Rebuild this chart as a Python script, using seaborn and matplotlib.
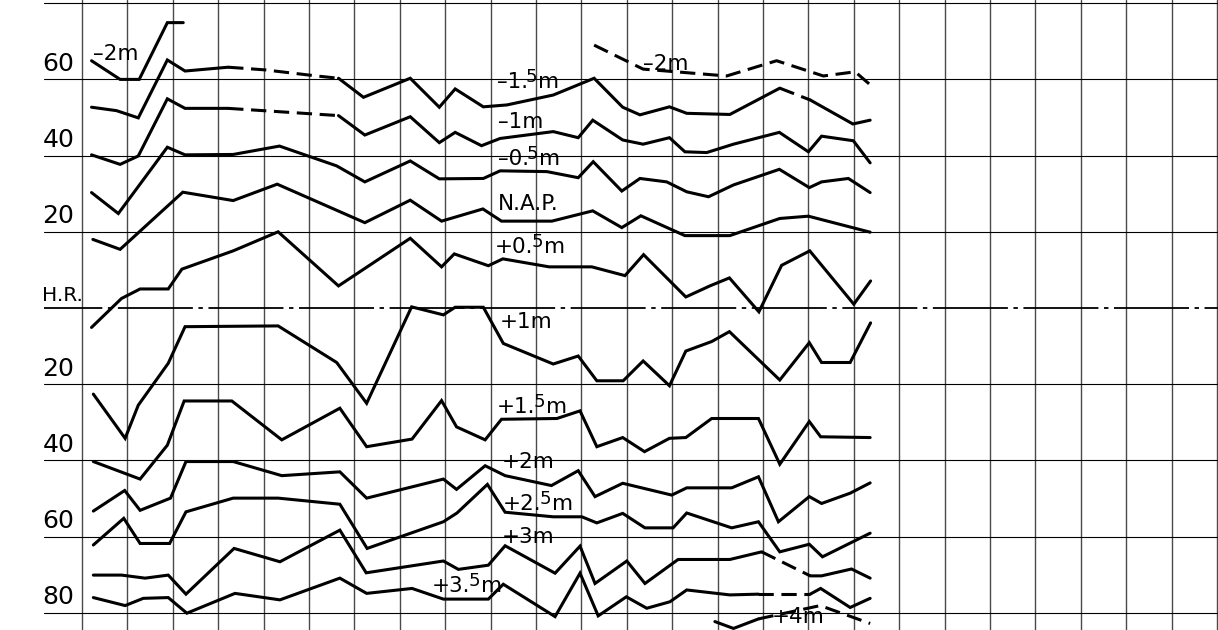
import matplotlib
matplotlib.use("Agg")
import matplotlib.pyplot as plt
import seaborn as sns

# Observation positions are in ruled-column widths from the first vertical rule;
# levels are in cm relative to H.R. (positive = above H.R.).

x_min2_a = [0.21, 0.84, 1.26, 1.88, 2.23]
v_min2_a = [64.9, 60.0, 60.0, 74.9, 74.9]

x_min2_b = [11.28, 12.36, 14.20, 15.30, 16.33, 17.03, 17.34]
v_min2_b = [69.0, 62.7, 60.9, 64.9, 60.9, 62.0, 58.8]

x_min15 = [0.21, 0.76, 1.24, 1.88, 2.27, 3.22, 4.03, 5.17, 5.65, 6.20, 7.23, 7.87, 8.22,
           8.84, 9.36, 10.38, 11.28, 11.91, 12.29, 12.94, 13.32, 14.27, 15.37, 16.04, 16.98, 17.36]
v_min15 = [52.7, 51.8, 49.9, 65.1, 62.2, 63.2, 62.5, 60.9, 60.3, 55.3, 60.3, 52.7, 57.5,
           52.8, 53.3, 55.9, 60.3, 52.7, 50.7, 52.8, 51.1, 50.8, 57.7, 54.6, 48.3, 49.3]

x_min1 = [0.21, 0.84, 1.24, 1.88, 2.27, 3.22, 5.65, 6.23, 7.23, 7.87, 8.22, 8.80, 9.21, 10.38,
          10.93, 11.25, 11.91, 12.36, 12.94, 13.28, 13.76, 14.35, 15.36, 16.00, 16.29, 16.99, 17.36]
v_min1 = [40.2, 37.7, 39.9, 54.9, 52.4, 52.4, 50.5, 45.4, 50.2, 43.4, 46.1, 42.6, 44.5, 46.3,
          44.7, 49.3, 44.1, 43.0, 44.7, 41.0, 40.8, 43.0, 46.1, 41.0, 45.1, 43.9, 38.1]

x_min05 = [0.21, 0.80, 1.88, 2.27, 3.33, 4.35, 5.61, 6.23, 7.23, 7.87, 8.84, 9.21, 10.24,
           10.93, 11.26, 11.89, 12.29, 12.88, 13.32, 13.80, 14.35, 15.36, 16.02, 16.29, 16.88, 17.36]
v_min05 = [30.3, 24.8, 42.2, 40.2, 40.3, 42.5, 37.3, 33.1, 38.6, 33.9, 34.0, 36.0, 35.8,
           34.2, 38.4, 30.7, 34.0, 33.1, 30.5, 29.2, 32.3, 36.4, 31.6, 33.1, 34.0, 30.3]

x_nap = [0.24, 0.84, 2.22, 3.33, 4.30, 6.23, 7.23, 7.92, 8.83, 9.24, 10.35, 11.25, 11.89,
         12.31, 13.28, 14.27, 15.37, 16.00, 17.36]
v_nap = [18.0, 15.4, 30.4, 28.2, 32.5, 22.4, 28.3, 22.8, 26.0, 22.8, 22.8, 25.5, 21.1,
         24.2, 19.0, 19.0, 23.5, 24.1, 19.9]

x_p05 = [0.21, 0.87, 1.28, 1.90, 2.20, 3.33, 4.32, 5.65, 7.23, 7.92, 8.20, 8.95, 9.27,
         10.29, 11.23, 11.96, 12.37, 13.30, 13.83, 14.26, 14.91, 15.41, 16.03, 17.00, 17.37]
v_p05 = [-5.1, 2.5, 5.0, 5.0, 10.2, 15.0, 20.0, 5.8, 18.3, 10.8, 14.2, 11.1, 12.9,
         10.8, 10.8, 8.5, 14.0, 2.9, 5.8, 7.9, -1.0, 11.2, 15.0, 1.0, 7.1]

x_p1 = [0.25, 0.95, 1.24, 1.90, 2.27, 4.32, 5.61, 6.27, 7.26, 7.96, 8.22, 8.84, 9.28, 10.38,
        10.93, 11.34, 11.92, 12.36, 12.94, 13.30, 13.87, 14.26, 15.37, 16.02, 16.29, 16.92, 17.37]
v_p1 = [-22.6, -34.2, -25.5, -14.5, -4.9, -4.7, -14.3, -25.0, 0.3, -1.8, 0.2, 0.2, -9.3, -14.7,
        -12.6, -19.1, -19.1, -13.9, -20.4, -11.3, -8.8, -6.2, -18.9, -9.1, -14.3, -14.3, -3.9]

x_p15 = [0.25, 1.28, 1.88, 2.25, 3.30, 4.40, 5.68, 6.27, 7.27, 7.92, 8.25, 8.88, 9.24,
         10.46, 10.97, 11.34, 11.91, 12.39, 12.94, 13.30, 13.87, 14.90, 15.37, 16.02, 16.27, 17.36]
v_p15 = [-40.3, -44.9, -36.0, -24.4, -24.4, -34.6, -26.3, -36.4, -34.4, -24.3, -31.2, -34.6, -29.2,
         -29.0, -27.0, -36.4, -34.0, -37.7, -34.2, -34.0, -29.0, -29.0, -41.0, -29.8, -33.8, -34.0]

x_p2 = [0.25, 0.94, 1.28, 1.95, 2.29, 3.33, 4.40, 5.68, 6.27, 7.96, 8.25, 8.88, 9.32,
        10.34, 10.93, 11.30, 11.91, 12.99, 13.32, 14.31, 14.90, 15.34, 16.02, 16.29, 16.92, 17.36]
v_p2 = [-53.3, -47.9, -53.1, -49.9, -40.3, -40.3, -44.0, -43.0, -49.9, -44.9, -47.6, -41.4, -44.0,
        -46.6, -42.7, -49.5, -46.0, -49.1, -47.2, -47.2, -44.3, -56.1, -49.5, -51.3, -48.6, -45.9]

x_p25 = [0.25, 0.92, 1.28, 1.93, 2.29, 3.33, 4.32, 5.68, 6.28, 7.96, 8.26, 8.93, 9.32,
         10.38, 11.01, 11.34, 11.91, 12.40, 13.02, 13.32, 14.31, 14.90, 15.37, 16.02, 16.31, 17.36]
v_p25 = [-62.2, -55.2, -61.8, -61.8, -53.5, -49.9, -49.9, -51.5, -63.1, -56.1, -53.8, -46.3, -53.6,
         -54.8, -54.8, -56.4, -53.9, -57.7, -57.7, -53.8, -57.7, -56.1, -64.0, -62.0, -65.3, -59.1]

x_p3 = [0.25, 0.87, 1.39, 1.90, 2.29, 3.35, 4.36, 5.68, 6.26, 7.96, 8.29, 8.95, 9.32,
        10.42, 10.97, 11.30, 12.00, 12.40, 13.13, 14.27, 14.97, 16.04, 16.29, 16.95, 17.36]
v_p3 = [-70.1, -70.1, -70.9, -70.1, -75.1, -63.1, -66.6, -58.3, -69.5, -66.4, -68.6, -67.5, -62.4,
        -69.6, -62.5, -72.3, -66.4, -72.3, -66.0, -66.0, -64.0, -70.3, -70.3, -68.5, -70.9]

x_p35 = [0.25, 0.95, 1.35, 1.90, 2.31, 3.37, 4.36, 5.68, 6.27, 7.27, 7.96, 8.95, 9.28,
         10.42, 10.97, 11.37, 11.99, 12.44, 12.95, 13.32, 14.27, 14.90, 16.04, 16.27, 16.92, 17.36]
v_p35 = [-76.0, -78.1, -76.2, -76.0, -80.1, -74.9, -76.6, -70.9, -74.9, -73.6, -76.4, -76.4, -72.5,
         -81.0, -69.6, -80.8, -75.8, -78.8, -77.1, -74.0, -75.3, -75.1, -75.1, -73.6, -78.6, -76.2]

x_p4 = [13.94, 14.35, 14.90, 16.26, 17.36]
v_p4 = [-82.3, -84.1, -81.6, -78.1, -82.8]

tick_values = [60, 40, 20, 0, -20, -40, -60, -80]
tick_texts = ["60", "40", "20", "H.R.", "20", "40", "60", "80"]

# depth label split as (text, raised digit, trailing unit)
depth_names = {
    "min2_a": ("–2m", "", ""), "min2_b": ("–2m", "", ""),
    "min15": ("–1.", "5", "m"), "min1": ("–1m", "", ""),
    "min05": ("–0.", "5", "m"), "nap": ("N.A.P.", "", ""),
    "p05": ("+0.", "5", "m"), "p1": ("+1m", "", ""),
    "p15": ("+1.", "5", "m"), "p2": ("+2m", "", ""),
    "p25": ("+2.", "5", "m"), "p3": ("+3m", "", ""),
    "p35": ("+3.", "5", "m"), "p4": ("+4m", "", ""),
}

series = {
    "min2_a": (x_min2_a, v_min2_a), "min2_b": (x_min2_b, v_min2_b),
    "min15": (x_min15, v_min15), "min1": (x_min1, v_min1),
    "min05": (x_min05, v_min05), "nap": (x_nap, v_nap),
    "p05": (x_p05, v_p05), "p1": (x_p1, v_p1),
    "p15": (x_p15, v_p15), "p2": (x_p2, v_p2),
    "p25": (x_p25, v_p25), "p3": (x_p3, v_p3),
    "p35": (x_p35, v_p35), "p4": (x_p4, v_p4),
}

# index spans drawn as interrupted (estimated) stretches
dashed_spans = {
    "min2_b": [(0, 6)],
    "min15": [(5, 8), (22, 23)],
    "min1": [(5, 6)],
    "p3": [(20, 21)],
    "p35": [(21, 22)],
    "p4": [(2, 4)],
}

# where each depth name is lettered (column units, cm level of baseline)
label_at = {
    "min2_a": (0.24, 65.1), "min2_b": (12.36, 62.5),
    "min15": (9.14, 57.7), "min1": (9.16, 47.2),
    "min05": (9.16, 37.5), "nap": (9.16, 25.7),
    "p05": (9.10, 14.4), "p1": (9.21, -5.2),
    "p15": (9.14, -27.6), "p2": (9.25, -42.0),
    "p25": (9.27, -53.0), "p3": (9.25, -61.7),
    "p35": (7.71, -74.5), "p4": (15.20, -82.6),
}


def pieces(xs, vs, spans):
    cuts = sorted(set([0, len(xs) - 1] + [i for s in spans for i in s]))
    out = []
    for a, b in zip(cuts[:-1], cuts[1:]):
        out.append((xs[a:b + 1], vs[a:b + 1], (a, b) in spans))
    return out


sns.set_theme(style="white")
plt.rcParams["font.family"] = ["DejaVu Sans"]
plt.rcParams["lines.scale_dashes"] = False
plt.rcParams["lines.solid_capstyle"] = "round"
plt.rcParams["lines.solid_joinstyle"] = "miter"

fig = plt.figure(figsize=(12.18, 6.30), dpi=100)
ax = fig.add_axes([0, 0, 1, 1])
x_lo, x_hi = -1.806, 25.022
y_lo, y_hi = -84.51, 80.84
ax.set_xlim(x_lo, x_hi)
ax.set_ylim(y_lo, y_hi)
ax.axis("off")

# ruled paper: vertical column rules and horizontal level rules
rule_left = -0.837
for k in range(26):
    ax.axvline(k, color="#4a4a4a", lw=1.0, zorder=1)
for v in tick_values:
    if v == 0:
        ax.plot([rule_left, x_hi], [0, 0], color="black", lw=1.3,
                linestyle=(12.0, (54, 4, 3.2, 4)), zorder=1)
    else:
        ax.plot([rule_left, x_hi], [v, v], color="black", lw=0.8, zorder=1)
ax.plot([rule_left, x_hi], [80, 80], color="black", lw=0.8, zorder=1)

for v, txt in zip(tick_values, tick_texts):
    ax.annotate(txt, xy=(-0.87, v), xytext=(0, 2.5), textcoords="offset points",
                fontsize=14.5 if txt == "H.R." else 18, va="bottom", ha="left",
                color="black")

for key, (xs, vs) in series.items():
    for px, pv, dashed in pieces(xs, vs, dashed_spans.get(key, [])):
        sns.lineplot(x=px, y=pv, ax=ax, color="black", lw=2.2, estimator=None,
                     sort=False, linestyle=(0, (11, 5.5)) if dashed else "-",
                     zorder=3, legend=False)

size = 15.5
for key, (head, sup, tail) in depth_names.items():
    lx, lv = label_at[key]
    t = ax.text(lx, lv, head, fontsize=size, va="baseline", ha="left", color="black", zorder=4)
    if sup:
        s = ax.annotate(sup, xy=(1, 0), xycoords=t, xytext=(-1.5, 4.5),
                        textcoords="offset points", fontsize=size * 0.85,
                        va="bottom", ha="left", color="black", zorder=4)
        ax.annotate(tail, xy=(1, 0), xycoords=s, xytext=(0.5, -4.5),
                    textcoords="offset points", fontsize=size,
                    va="bottom", ha="left", color="black", zorder=4)

fig.savefig("out.png", dpi=100, facecolor="white")
